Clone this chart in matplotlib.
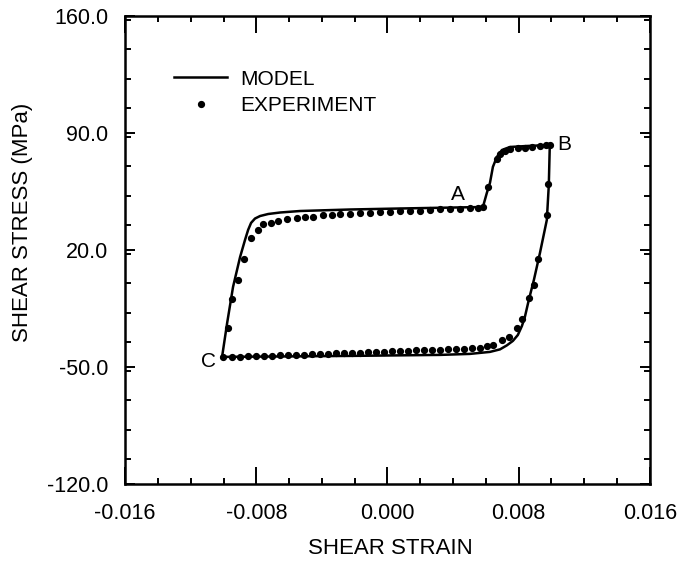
import matplotlib
matplotlib.use("Agg")
import matplotlib.pyplot as plt
from matplotlib.ticker import MultipleLocator, FixedLocator

plt.rcParams['font.family'] = ['Liberation Sans', 'DejaVu Sans']

# Model hysteresis loop (shear strain, shear stress in MPa), C -> A -> B -> C
model_strain = [-0.01009, -0.00978, -0.00942, -0.00899, -0.00869, -0.00850, -0.00832,
                -0.00808, -0.00777, -0.00728, -0.00655, -0.00533, -0.00229, 0.00076,
                0.00582,
                0.00606, 0.00625, 0.00643, 0.00667, 0.00698, 0.00747, 0.00850, 0.00990,
                0.00984, 0.00972, 0.00930, 0.00893, 0.00862, 0.00838, 0.00820, 0.00795,
                0.00765, 0.00728, 0.00686, 0.00625, 0.00503, 0.00320, -0.00229, -0.01009]
model_stress = [-44.0, -23.7, -2.1, 15.8, 26.0, 32.0, 36.2,
                38.8, 40.3, 41.5, 42.4, 43.3, 44.2, 44.8,
                45.7,
                54.1, 60.1, 69.7, 75.6, 79.8, 81.6, 82.2, 82.8,
                58.9, 38.0, 18.2, 2.05, -9.9, -20.1, -25.5, -30.9,
                -34.4, -37.1, -39.5, -41.0, -42.2, -42.8, -43.4, -44.0]

# Experimental points
exp_strain = [
    # C up the left branch and along the upper plateau to A
    -0.01006, -0.00974, -0.00950, -0.00911, -0.00873, -0.00834, -0.00788,
    -0.00757, -0.00712, -0.00666, -0.00614, -0.00553, -0.00503, -0.00452,
    -0.00391, -0.00340, -0.00290, -0.00229, -0.00168, -0.00107, -0.00046,
    0.00015, 0.00076, 0.00137, 0.00198, 0.00259, 0.00320, 0.00381, 0.00442,
    0.00503, 0.00553, 0.00582,
    # A to B
    0.00613, 0.00667, 0.00686, 0.00716, 0.00747, 0.00795, 0.00838, 0.00881,
    0.00930, 0.00966, 0.00990,
    # B down the right branch
    0.00978, 0.00972, 0.00917, 0.00893, 0.00862, 0.00820, 0.00789, 0.00741,
    0.00698, 0.00643, 0.00606,
    # lower plateau back to C
    0.00564, 0.00515, 0.00466, 0.00418, 0.00369, 0.00320, 0.00271, 0.00222,
    0.00174, 0.00125, 0.00076, 0.00027, -0.00021, -0.00070, -0.00119, -0.00168,
    -0.00216, -0.00265, -0.00314, -0.00363, -0.00411, -0.00460, -0.00509,
    -0.00558, -0.00606, -0.00655, -0.00704, -0.00753, -0.00802, -0.00850,
    -0.00899, -0.00948,
]
exp_stress = [
    -44.0, -26.8, -9.3, 2.1, 14.6, 27.4, 32.0,
    35.4, 36.3, 37.4, 38.4, 39.3, 39.9, 40.0,
    40.8, 40.9, 41.4, 41.7, 42.0, 42.3, 42.7,
    42.9, 43.3, 43.5, 43.6, 43.9, 44.4, 44.5, 44.7,
    45.0, 45.3, 45.5,
    57.7, 74.4, 77.4, 79.2, 80.4, 81.0, 81.0, 81.6,
    82.2, 82.5, 82.5,
    59.5, 40.9, 14.6, -0.9, -8.7, -21.3, -26.7, -32.1,
    -33.8, -36.8, -37.4,
    -38.6, -38.9, -39.2, -39.2, -39.5, -39.8, -39.8, -40.1,
    -40.1, -40.4, -40.7, -40.7, -41.0, -41.0, -41.3, -41.6,
    -41.6, -41.9, -41.9, -42.2, -42.2, -42.5, -42.8,
    -42.8, -43.1, -43.1, -43.4, -43.4, -43.7, -43.7,
    -44.0, -44.0,
]

# Point labels
point_names = ["A", "B", "C"]
point_strain = [0.0043, 0.0108, -0.0109]
point_stress = [53.0, 83.0, -47.0]

x_ticks = [-0.016, -0.008, 0.000, 0.008, 0.016]
x_tick_labels = ["-0.016", "-0.008", "0.000", "0.008", "0.016"]
y_ticks = [-120.0, -50.0, 20.0, 90.0, 160.0]
y_tick_labels = ["-120.0", "-50.0", "20.0", "90.0", "160.0"]

fig = plt.figure(figsize=(6.84, 5.70), dpi=100)
ax = fig.add_axes([0.183, 0.151, 0.767, 0.821])

ax.plot(model_strain, model_stress, color="black", lw=1.8, label="MODEL",
        solid_joinstyle="round")
ax.plot(exp_strain, exp_stress, linestyle="none", marker="o", ms=4.2,
        color="black", label="EXPERIMENT")

for name, sx, sy in zip(point_names, point_strain, point_stress):
    ax.text(sx, sy, name, fontsize=15, ha="center", va="center")

ax.set_xlim(-0.016, 0.016)
ax.set_ylim(-120.0, 160.0)
ax.xaxis.set_major_locator(FixedLocator(x_ticks))
ax.yaxis.set_major_locator(FixedLocator(y_ticks))
ax.xaxis.set_minor_locator(MultipleLocator(0.002))
ax.yaxis.set_minor_locator(MultipleLocator(17.5))
ax.set_xticklabels(x_tick_labels, fontsize=15.5)
ax.set_yticklabels(y_tick_labels, fontsize=15.5)

for s in ax.spines.values():
    s.set_linewidth(1.8)
ax.tick_params(which="both", direction="in", top=True, right=True, width=1.4)
ax.tick_params(axis="x", which="major", length=12, pad=14)
ax.tick_params(axis="y", which="major", length=7, pad=12)
ax.tick_params(which="minor", length=4.5)

fig.text(0.033, 0.61, "SHEAR STRESS (MPa)", rotation=90, fontsize=16,
         ha="center", va="center")
fig.text(0.570, 0.038, "SHEAR STRAIN", fontsize=16, ha="center", va="center")

ax.legend(loc="upper left", bbox_to_anchor=(0.093, 0.885), frameon=False,
          fontsize=15, handlelength=2.55, handletextpad=0.65, numpoints=1,
          borderpad=0, borderaxespad=0, labelspacing=0.35)

fig.savefig("out.png", dpi=100)
